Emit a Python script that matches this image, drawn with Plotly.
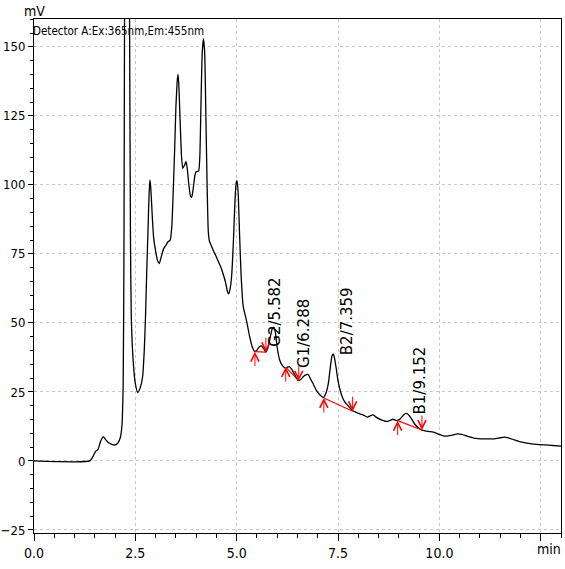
import plotly.graph_objects as go

# Chromatogram (time in min, signal in mV)
time_min = [0.0, 1.38, 1.45, 1.52, 1.58, 1.64, 1.71, 1.78, 1.85, 1.92, 2.00, 2.07, 2.13, 2.17, 2.20,
            2.22, 2.24, 2.28, 2.33, 2.36, 2.38, 2.40, 2.45, 2.50, 2.56, 2.62, 2.68, 2.72, 2.75, 2.78,
            2.81, 2.84, 2.86, 2.88, 2.92, 2.95, 3.00, 3.05, 3.09, 3.14, 3.20, 3.26, 3.30, 3.36, 3.40,
            3.44, 3.47, 3.50, 3.53, 3.55, 3.57, 3.60, 3.64, 3.67, 3.71, 3.75, 3.78, 3.82, 3.86, 3.89,
            3.93, 3.97, 4.00, 4.06, 4.09, 4.12, 4.15, 4.18, 4.21, 4.24, 4.27, 4.30, 4.33, 4.38, 4.43,
            4.48, 4.54, 4.60, 4.66, 4.72, 4.77, 4.80, 4.84, 4.88, 4.92, 4.96, 4.99, 5.01, 5.04, 5.07,
            5.11, 5.16, 5.24, 5.32, 5.38, 5.45, 5.50, 5.56, 5.61, 5.66, 5.72, 5.77, 5.83, 5.88, 5.92,
            5.96, 6.00, 6.06, 6.13, 6.20, 6.25, 6.30, 6.36, 6.44, 6.52, 6.58, 6.66, 6.72, 6.77, 6.83,
            6.90, 6.97, 7.05, 7.14, 7.20, 7.26, 7.31, 7.35, 7.38, 7.41, 7.45, 7.50, 7.55, 7.61, 7.67,
            7.76, 7.86, 7.95, 8.05, 8.13, 8.22, 8.30, 8.37, 8.45, 8.55, 8.62, 8.70, 8.78, 8.85, 8.95,
            9.03, 9.10, 9.17, 9.22, 9.30, 9.40, 9.48, 9.57, 9.65, 9.78, 9.90, 10.00, 10.10, 10.19, 10.30,
            10.45, 10.55, 10.70, 10.85, 10.95, 11.15, 11.35, 11.50, 11.60, 11.70, 11.85, 12.00, 12.20, 12.40, 12.60,
            12.80, 13.00]
signal_mv = [0.0, 0.0, 1.5, 3.5, 4.2, 7.0, 8.8, 7.5, 6.5, 6.0, 5.8, 6.5, 8.5, 13.0, 28.0,
             80.0, 200.0, 300.0, 250.0, 150.0, 80.0, 52.0, 35.5, 28.0, 24.8, 26.5, 30.6, 40.0, 52.0, 68.0,
             82.5, 97.0, 101.8, 99.0, 88.0, 81.0, 76.0, 72.5, 71.5, 74.0, 77.0, 78.3, 79.3, 80.0, 85.0,
             100.0, 113.0, 128.0, 137.0, 140.0, 137.0, 125.0, 110.0, 106.0, 107.0, 108.5, 106.0, 100.0, 96.0, 95.5,
             99.0, 103.5, 104.8, 105.0, 110.0, 130.0, 148.0, 153.0, 148.0, 125.0, 100.0, 83.0, 79.5, 77.8, 76.0,
             74.5, 72.5, 70.5, 68.0, 65.0, 61.5, 60.5, 62.5, 68.0, 80.0, 95.0, 101.0, 101.5, 96.0, 82.5,
             67.0, 56.0, 51.0, 45.0, 41.5, 39.6, 40.2, 41.4, 41.7, 40.8, 39.4, 41.0, 45.0, 48.0, 48.5,
             46.0, 41.0, 36.6, 34.5, 33.6, 34.0, 34.2, 33.2, 31.0, 29.1, 29.5, 30.8, 31.3, 31.2, 29.5,
             27.5, 25.5, 24.0, 23.0, 24.5, 28.0, 34.0, 38.0, 38.8, 37.5, 34.0, 29.0, 25.7, 23.0, 21.3,
             19.8, 18.2, 17.6, 17.0, 16.6, 15.9, 16.4, 16.7, 15.8, 15.0, 14.6, 14.3, 14.7, 15.1, 14.6,
             15.2, 16.4, 17.2, 17.0, 15.5, 13.2, 12.0, 11.2, 10.9, 10.6, 10.2, 9.6, 9.1, 9.0, 9.3,
             9.8, 9.6, 8.9, 8.3, 8.1, 8.0, 8.0, 8.4, 8.6, 8.4, 7.6, 6.9, 6.4, 6.0, 5.8,
             5.6, 5.4]

# Integrated peaks
peak_names = ["G2/5.582", "G1/6.288", "B2/7.359", "B1/9.152"]
peak_rt = [5.582, 6.288, 7.359, 9.152]
peak_top = [41.7, 34.2, 38.8, 17.2]
base_start_t = [5.45, 6.21, 7.15, 8.97]
base_start_v = [39.6, 34.0, 22.8, 14.6]
base_end_t = [5.72, 6.53, 7.86, 9.57]
base_end_v = [39.4, 29.1, 18.0, 11.2]

y_ticks = [-25, 0, 25, 50, 75, 100, 125, 150]
x_ticks = [0.0, 2.5, 5.0, 7.5, 10.0, 12.5]
x_ticktext = ["0.0", "2.5", "5.0", "7.5", "10.0", ""]

narrow = "DejaVu Sans Condensed, Liberation Sans Narrow, Liberation Sans, Arial, sans-serif"
wide = "DejaVu Sans, Liberation Sans, Arial, sans-serif"

fig = go.Figure()
fig.add_trace(go.Scatter(x=time_min, y=signal_mv, mode="lines",
                         line=dict(color="black", width=1.3, shape="spline", smoothing=0.5),
                         showlegend=False, hoverinfo="skip"))

for i in range(len(peak_names)):
    fig.add_trace(go.Scatter(x=[base_start_t[i], base_end_t[i]], y=[base_start_v[i], base_end_v[i]],
                             mode="lines", line=dict(color="#ff0000", width=1.2),
                             showlegend=False, hoverinfo="skip"))

annotations = []
for i in range(len(peak_names)):
    annotations.append(dict(x=base_start_t[i], y=base_start_v[i], xref="x", yref="y", text="",
                            showarrow=True, ax=0, ay=16, arrowhead=5, arrowsize=1.6,
                            arrowwidth=1, arrowcolor="#ff0000", standoff=0))
    annotations.append(dict(x=base_end_t[i], y=base_end_v[i], xref="x", yref="y", text="",
                            showarrow=True, ax=0, ay=-16, arrowhead=5, arrowsize=1.6,
                            arrowwidth=1, arrowcolor="#ff0000", standoff=0))
    annotations.append(dict(x=peak_rt[i], y=peak_top[i], xref="x", yref="y", text=peak_names[i],
                            showarrow=False, textangle=-90, xanchor="center", yanchor="bottom",
                            xshift=15, yshift=-2, borderpad=0,
                            font=dict(family=wide, size=15, color="black")))

annotations.append(dict(x=0, y=1, xref="paper", yref="paper", text="Detector A:Ex:365nm,Em:455nm",
                        showarrow=False, xanchor="left", yanchor="top", xshift=-3, yshift=-3,
                        font=dict(family=narrow, size=11.5, color="black")))
annotations.append(dict(x=0, y=1, xref="paper", yref="paper", text="mV",
                        showarrow=False, xanchor="center", yanchor="bottom", yshift=-2,
                        font=dict(family=narrow, size=14, color="black")))
annotations.append(dict(x=1, y=0, xref="paper", yref="paper", text="min",
                        showarrow=False, xanchor="right", yanchor="top", yshift=-6, xshift=2,
                        font=dict(family=narrow, size=14, color="black")))

fig.update_layout(
    width=565, height=569,
    margin=dict(l=34, r=4, t=19, b=36, autoexpand=False),
    paper_bgcolor="white", plot_bgcolor="white",
    annotations=annotations,
    showlegend=False,
)

fig.update_xaxes(range=[0, 13.0], tickvals=x_ticks, ticktext=x_ticktext, automargin=False,
                 showline=True, linecolor="black", linewidth=1, mirror=True,
                 ticks="outside", ticklen=7, tickcolor="black",
                 minor=dict(dtick=0.5, ticks="outside", ticklen=4, tickcolor="black", showgrid=False),
                 showgrid=True, gridcolor="#c8c8c8", griddash="dot", gridwidth=1,
                 zeroline=False,
                 tickfont=dict(family=narrow, size=14, color="black"))
fig.update_yaxes(range=[-26.1, 160.1], tickvals=y_ticks, automargin=False,
                 showline=True, linecolor="black", linewidth=1, mirror=True,
                 ticks="outside", ticklen=5, tickcolor="black",
                 minor=dict(dtick=5, ticks="outside", ticklen=3, tickcolor="black", showgrid=False),
                 showgrid=True, gridcolor="#c8c8c8", griddash="dot", gridwidth=1,
                 zeroline=False,
                 tickfont=dict(family=narrow, size=13, color="black"))

fig.write_html("out.html", config={"displayModeBar": False, "staticPlot": True})

# remove the browser's default page margin so the figure sits at the window origin
with open("out.html", "r", encoding="utf-8") as f:
    html = f.read()
html = html.replace("<body>", '<body style="margin:0;padding:0;overflow:hidden">', 1)
with open("out.html", "w", encoding="utf-8") as f:
    f.write(html)
